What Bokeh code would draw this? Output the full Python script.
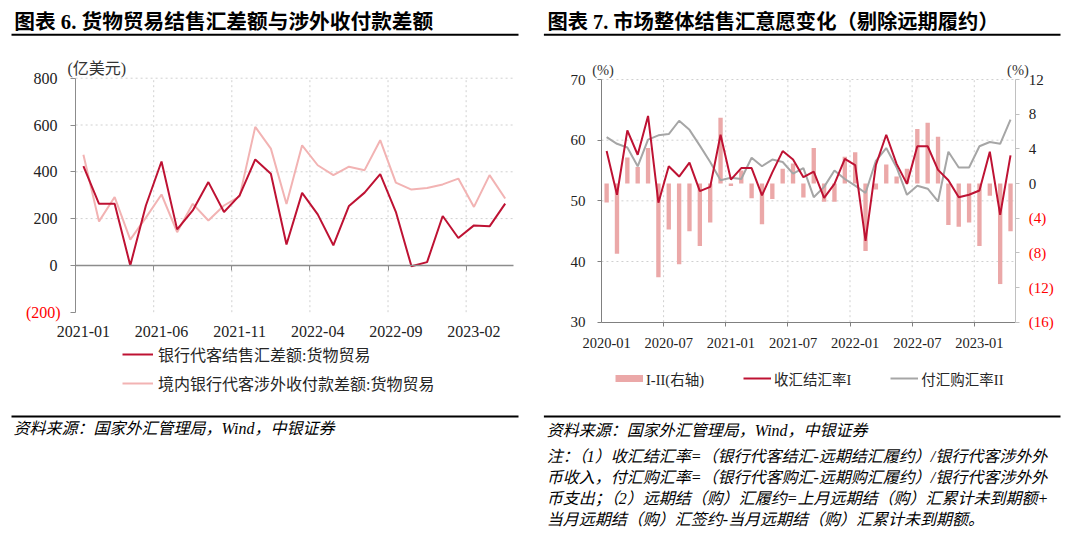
from bokeh.plotting import figure
from bokeh.models import (Range1d, LinearAxis, FixedTicker, Label, BoxAnnotation,
                          Legend, LegendItem)
from bokeh.layouts import row
from bokeh.embed import file_html
from bokeh.resources import INLINE

# ---------------- data: chart 6 ----------------
left_months = ["2021-01", "2021-02", "2021-03", "2021-04", "2021-05", "2021-06", "2021-07",
               "2021-08", "2021-09", "2021-10", "2021-11", "2021-12", "2022-01", "2022-02",
               "2022-03", "2022-04", "2022-05", "2022-06", "2022-07", "2022-08", "2022-09",
               "2022-10", "2022-11", "2022-12", "2023-01", "2023-02", "2023-03", "2023-04"]
left_tick_labels = ["2021-01", "2021-06", "2021-11", "2022-04", "2022-09", "2023-02"]
goods_fx_net = [424, 263, 263, 0, 256, 444, 154, 235, 356, 228, 299, 453, 392, 89,
                310, 218, 86, 254, 311, 390, 229, -4, 14, 211, 117, 171, 167, 264]
goods_cross_net = [473, 188, 292, 110, 204, 303, 142, 263, 192, 256, 295, 592, 499, 262,
                   513, 428, 386, 422, 407, 535, 354, 324, 331, 346, 371, 250, 386, 286]
left_y_ticks = [-200, 0, 200, 400, 600, 800]

# ---------------- data: chart 7 ----------------
right_months = ["2020-01", "2020-02", "2020-03", "2020-04", "2020-05", "2020-06", "2020-07",
                "2020-08", "2020-09", "2020-10", "2020-11", "2020-12", "2021-01", "2021-02",
                "2021-03", "2021-04", "2021-05", "2021-06", "2021-07", "2021-08", "2021-09",
                "2021-10", "2021-11", "2021-12", "2022-01", "2022-02", "2022-03", "2022-04",
                "2022-05", "2022-06", "2022-07", "2022-08", "2022-09", "2022-10", "2022-11",
                "2022-12", "2023-01", "2023-02", "2023-03", "2023-04"]
right_tick_labels = ["2020-01", "2020-07", "2021-01", "2021-07", "2022-01", "2022-07", "2023-01"]
rate_I = [58.2, 51.0, 61.6, 57.6, 64.0, 49.7, 55.7, 54.0, 56.3, 51.6,
          52.3, 60.9, 53.5, 55.4, 55.4, 50.9, 54.7, 58.2, 56.8, 53.9,
          54.8, 50.5, 52.8, 56.9, 55.9, 43.4, 55.9, 60.9, 56.1, 52.8,
          59.0, 59.0, 55.1, 53.4, 50.6, 51.0, 51.7, 58.1, 47.7, 57.5]
rate_II = [60.5, 59.4, 58.8, 55.7, 60.1, 60.8, 61.0, 63.2, 61.7, 59.1,
           56.4, 53.4, 53.8, 53.6, 57.1, 55.7, 56.8, 56.4, 54.5, 55.4,
           50.6, 52.3, 55.0, 53.6, 52.5, 51.3, 56.6, 58.7, 55.5, 51.0,
           52.5, 52.0, 49.9, 58.1, 55.5, 55.5, 59.0, 59.7, 59.4, 63.4]
gap_I_II = [-2.2, -8.1, 3.0, 1.9, 4.1, -10.8, -5.3, -9.3, -5.5, -7.2,
            -4.5, 7.6, -0.3, 1.5, -1.7, -4.7, -1.8, 1.7, 2.3, -1.6,
            4.1, -2.1, -2.1, 3.1, 3.6, -7.8, -0.7, 2.2, 0.8, 1.7,
            6.3, 7.0, 5.4, -4.8, -5.0, -4.5, -7.2, -1.4, -11.6, -5.5]
right_left_ticks = [30, 40, 50, 60, 70]
right_right_ticks = [-16, -12, -8, -4, 0, 4, 8, 12]

# ---------------- style ----------------
RED = "#BE1233"
PINK = "#F2B3B3"
BAR = "#EBA8A8"
GRAY = "#A6A6A6"
GRID = "#D0D0D0"
SERIF = "Liberation Serif"
MIX = "Liberation Serif, Noto Sans CJK SC"
TXT = "#222222"
W, H = 540, 536
NAN = float("nan")


def paren(v):
    return "(%d)" % abs(v) if v < 0 else "%d" % v


def linmap(c0, c1, d0, d1):
    k = (d1 - d0) / (c1 - c0)
    return lambda c: d0 + (c - c0) * k


class Panel:
    """A figure whose frame is the whole canvas; chart area placed via the ranges."""

    def __init__(self, xa, ya, xr, yr):
        self.mx = linmap(xa[0], xa[1], xr[0], xr[1])
        self.my = linmap(ya[0], ya[1], yr[0], yr[1])
        self.p = figure(frame_width=W, frame_height=H, min_border=0,
                        x_range=Range1d(self.mx(0), self.mx(W)),
                        y_range=Range1d(self.my(H), self.my(0)),
                        x_axis_type=None, y_axis_type=None,
                        output_backend="svg", toolbar_location=None)
        self.p.outline_line_color = None
        self.p.background_fill_color = "white"
        self.p.border_fill_color = "white"

    def text(self, px, py, text, size, color="#000000", font=MIX, style="normal"):
        self.p.add_layout(Label(x=self.mx(px), y=self.my(py), text=text, text_font=font,
                                text_font_size=f"{size}px", text_color=color,
                                text_font_style=style, text_align="left",
                                text_baseline="middle"))

    def rule(self, x0, x1, py, th=2):
        self.p.add_layout(BoxAnnotation(left=self.mx(x0), right=self.mx(x1),
                                        top=self.my(py - th / 2), bottom=self.my(py + th / 2),
                                        fill_color="black", fill_alpha=1, line_color=None,
                                        level="overlay"))


def style_axis(ax, size, standoff, tick_out=5, line_color="#8C8C8C"):
    ax.axis_line_color = line_color
    ax.major_tick_line_color = line_color
    ax.major_tick_in = 0
    ax.major_tick_out = tick_out
    ax.minor_tick_line_color = None
    ax.major_label_text_font = SERIF
    ax.major_label_text_font_size = f"{size}px"
    ax.major_label_text_color = TXT
    ax.major_label_standoff = standoff


def hide_labels(ax):
    ax.major_label_text_font_size = "0px"
    ax.major_label_text_alpha = 0


# =============== LEFT: chart 6 ===============
n1 = len(left_months)
x1 = list(range(n1))
lab_idx1 = [left_months.index(m) for m in left_tick_labels]
bounds1 = [i - 0.5 for i in lab_idx1[1:]]
xs1, xe1 = -0.5, n1 - 0.5
ys1, ye1 = left_y_ticks[0], left_y_ticks[-1]

L = Panel((75.1, 512.5), (311.7, 77.7), (xs1, xe1), (ys1, ye1))
p1 = L.p

pos_ticks1 = [t for t in left_y_ticks if t > 0]
p1.segment(x0=xs1, x1=xe1, y0=pos_ticks1, y1=pos_ticks1,
           line_color=GRID, line_dash="2 3", line_width=1)
p1.segment(x0=bounds1, x1=bounds1, y0=ys1, y1=ye1, line_color=GRID, line_dash="2 3", line_width=1)

yax1 = LinearAxis(ticker=FixedTicker(ticks=left_y_ticks), fixed_location=xs1, bounds=(ys1, ye1),
                  major_label_overrides={t: ("" if t < 0 else paren(t)) for t in left_y_ticks})
style_axis(yax1, 16, 13)
p1.add_layout(yax1, "left")

xlab1 = LinearAxis(ticker=FixedTicker(ticks=lab_idx1), fixed_location=ys1,
                   major_label_overrides={i: m for i, m in zip(lab_idx1, left_tick_labels)})
style_axis(xlab1, 16, 14)
xlab1.axis_line_color = None
xlab1.major_tick_line_color = None
xlab1.major_tick_out = 0
p1.add_layout(xlab1, "below")

xzero1 = LinearAxis(ticker=FixedTicker(ticks=bounds1), fixed_location=0, bounds=(xs1, xe1))
style_axis(xzero1, 16, 0)
xzero1.axis_line_width = 1.5
hide_labels(xzero1)
p1.add_layout(xzero1, "below")

for t in left_y_ticks:
    if t < 0:
        p1.add_layout(Label(x=xs1, y=t, x_offset=-15, text=paren(t), text_font=SERIF,
                            text_font_size="16px", text_color="#FF0000",
                            text_align="right", text_baseline="middle"))

r_cross = p1.line(x1, goods_cross_net, line_color=PINK, line_width=2)
r_fx = p1.line(x1, goods_fx_net, line_color=RED, line_width=2)

leg1 = Legend(items=[LegendItem(label="银行代客结售汇差额:货物贸易", renderers=[r_fx]),
                     LegendItem(label="境内银行代客涉外收付款差额:货物贸易", renderers=[r_cross])],
              location=(122, H - 395), orientation="vertical", padding=0, margin=0, spacing=5,
              glyph_width=31, glyph_height=20, label_height=20, label_standoff=5,
              label_text_font=MIX, label_text_font_size="16px", label_text_color="#262626",
              border_line_color=None, background_fill_alpha=0)
p1.add_layout(leg1)

L.text(13.8, 21.7, "图表 6. 货物贸易结售汇差额与涉外收付款差额", 20.7, style="bold")
L.rule(11, 518, 34.3)
L.text(67, 68.3, "(亿美元)", 16, color="#333333")
L.rule(11, 518, 416)
L.text(13.1, 428.3, "资料来源：国家外汇管理局，Wind，中银证券", 16, style="italic")

# =============== RIGHT: chart 7 ===============
n2 = len(right_months)
x2 = list(range(n2))
lab_idx2 = [right_months.index(m) for m in right_tick_labels]
bounds2 = [i - 0.5 for i in lab_idx2[1:]]
xs2, xe2 = -0.5, n2 - 0.5
ys2, ye2 = right_left_ticks[0], right_left_ticks[-1]
rs2, re2 = right_right_ticks[0], right_right_ticks[-1]

R = Panel((60.95, 475.2), (321.7, 79.0), (xs2, xe2), (ys2, ye2))
p2 = R.p
mr = linmap(321.7, 79.0, rs2, re2)
p2.extra_y_ranges = {"r": Range1d(mr(H), mr(0))}

p2.segment(x0=xs2, x1=xe2, y0=right_left_ticks[1:], y1=right_left_ticks[1:],
           line_color=GRID, line_dash="2 3", line_width=1)
p2.segment(x0=bounds2, x1=bounds2, y0=ys2, y1=ye2, line_color=GRID, line_dash="2 3", line_width=1)

yl2 = LinearAxis(ticker=FixedTicker(ticks=right_left_ticks), fixed_location=xs2, bounds=(ys2, ye2))
style_axis(yl2, 15, 12, tick_out=4, line_color="#808080")
p2.add_layout(yl2, "left")

yr2 = LinearAxis(y_range_name="r", ticker=FixedTicker(ticks=right_right_ticks),
                 fixed_location=xe2, bounds=(rs2, re2),
                 major_label_overrides={t: ("" if t < 0 else paren(t)) for t in right_right_ticks})
style_axis(yr2, 15, 9, tick_out=4, line_color="#C0C0C0")
p2.add_layout(yr2, "right")

for t in right_right_ticks:
    if t < 0:
        p2.add_layout(Label(x=xe2, y=t, y_range_name="r", x_offset=13, text=paren(t),
                            text_font=SERIF, text_font_size="15px", text_color="#FF0000",
                            text_align="left", text_baseline="middle"))

xlab2 = LinearAxis(ticker=FixedTicker(ticks=lab_idx2), fixed_location=ys2,
                   major_label_overrides={i: m for i, m in zip(lab_idx2, right_tick_labels)})
style_axis(xlab2, 14.5, 16)
xlab2.axis_line_color = None
xlab2.major_tick_line_color = None
xlab2.major_tick_out = 0
p2.add_layout(xlab2, "below")

xbase2 = LinearAxis(ticker=FixedTicker(ticks=bounds2), fixed_location=ys2, bounds=(xs2, xe2))
style_axis(xbase2, 14.5, 0, tick_out=4, line_color="#808080")
hide_labels(xbase2)
p2.add_layout(xbase2, "below")

p2.vbar(x=x2, top=gap_I_II, bottom=0, width=0.42, y_range_name="r",
        fill_color=BAR, line_color=None)
# legend key for the bars (a thick short line in the bar colour, no visible data)
r_bar_key = p2.line(x=[NAN, NAN], y=[NAN, NAN], line_color=BAR, line_width=7)
r_II = p2.line(x2, rate_II, line_color=GRAY, line_width=2)
r_I = p2.line(x2, rate_I, line_color=RED, line_width=2)

leg2 = Legend(items=[LegendItem(label="I-II(右轴)", renderers=[r_bar_key]),
                     LegendItem(label="收汇结汇率I", renderers=[r_I]),
                     LegendItem(label="付汇购汇率II", renderers=[r_II])],
              location=(75, H - 388.7), orientation="horizontal", padding=0, margin=0, spacing=39,
              glyph_width=28, glyph_height=18, label_height=18, label_standoff=3,
              label_text_font=MIX, label_text_font_size="14.5px", label_text_color="#262626",
              border_line_color=None, background_fill_alpha=0)
p2.add_layout(leg2)

R.text(6.9, 21.7, "图表 7. 市场整体结售汇意愿变化（剔除远期履约）", 20.3, style="bold")
R.rule(3.4, 520, 34.3)
R.text(51.7, 69, "(%)", 14.5, color="#333333", font=SERIF)
R.text(466.6, 69, "(%)", 14.5, color="#333333", font=SERIF)
R.rule(3.4, 520, 416)
R.text(6.2, 430, "资料来源：国家外汇管理局，Wind，中银证券", 16, style="italic")
notes = ["注：（1）收汇结汇率=（银行代客结汇-远期结汇履约）/银行代客涉外外",
         "币收入，付汇购汇率=（银行代客购汇-远期购汇履约）/银行代客涉外外",
         "币支出；（2）远期结（购）汇履约=上月远期结（购）汇累计未到期额+",
         "当月远期结（购）汇签约-当月远期结（购）汇累计未到期额。"]
for line_text, yy in zip(notes, [456, 476.7, 498.3, 519.3]):
    R.text(6.2, yy, line_text, 16, style="italic")

layout = row(p1, p2)
open("out.html", "w").write(file_html(layout, INLINE))
